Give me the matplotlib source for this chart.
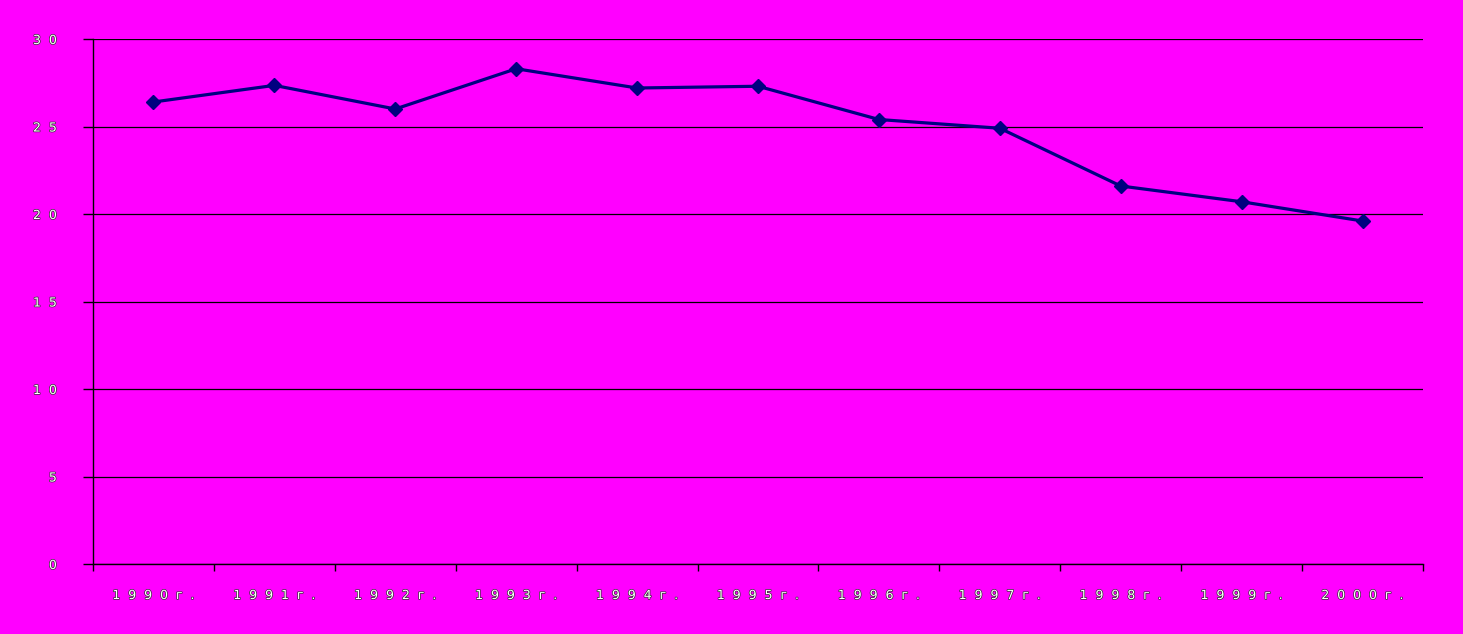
import numpy as np
import matplotlib.pyplot as plt
import matplotlib.patheffects as pe

years = ["1990г.", "1991г.", "1992г.", "1993г.", "1994г.", "1995г.",
         "1996г.", "1997г.", "1998г.", "1999г.", "2000г."]
values = [26.4, 27.35, 26.0, 28.3, 27.2, 27.3, 25.4, 24.9, 21.6, 20.7, 19.6]
y_ticks = [0, 5, 10, 15, 20, 25, 30]

BG = "#FF00FF"


def spaced(s):
    # в оригинале буквы подписей сильно разрежены
    return "  ".join(s)


fig = plt.figure(figsize=(14.63, 6.34), dpi=100, facecolor=BG)
ax = fig.add_axes([93 / 1463, 1 - 564 / 634, 1330 / 1463, 525 / 634])
ax.set_facecolor(BG)

x = np.arange(len(values)) + 0.5
ax.plot(x, values, color="#000080", lw=2.3, marker="D", ms=7.5,
        markerfacecolor="#000080", markeredgecolor="#000080", zorder=3)

ax.set_xlim(0, len(values))
ax.set_ylim(0, 30)

outline = [pe.withStroke(linewidth=1.0, foreground="#333333")]

ax.set_yticks(y_ticks)
ax.set_yticklabels([spaced(str(v)) for v in y_ticks], color="white",
                   fontsize=9, fontfamily="DejaVu Sans")
ax.tick_params(axis="y", length=7, width=1, color="black", pad=19)
ax.yaxis.grid(True, color="black", lw=0.9)

ax.set_xticks(np.arange(len(values) + 1))
ax.set_xticklabels([])
ax.set_xticks(x, minor=True)
ax.set_xticklabels([spaced(y) for y in years], minor=True, color="white",
                   fontsize=9, fontfamily="DejaVu Sans")
ax.tick_params(axis="x", which="major", length=5, width=1, color="black")
ax.tick_params(axis="x", which="minor", length=0, pad=18)

for t in ax.get_yticklabels() + ax.get_xticklabels(minor=True):
    t.set_path_effects(outline)

for s in ["top", "right"]:
    ax.spines[s].set_visible(False)
for s in ["left", "bottom"]:
    ax.spines[s].set_color("black")
    ax.spines[s].set_linewidth(1)

fig.savefig("out.png", dpi=100, facecolor=BG)
